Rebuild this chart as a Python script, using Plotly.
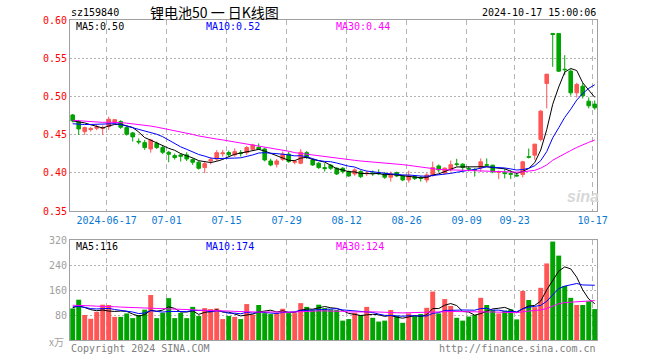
import plotly.graph_objects as go
import pandas as pd

# ---------------- data ----------------
holidays = ["2024-06-10", "2024-09-16", "2024-09-17", "2024-10-01", "2024-10-02",
            "2024-10-03", "2024-10-04", "2024-10-07"]
dates = [d.strftime("%Y-%m-%d") for d in pd.bdate_range("2024-06-06", "2024-10-17")
         if d.strftime("%Y-%m-%d") not in holidays]

open_ = [0.4757, 0.4670, 0.4539, 0.4565, 0.4583, 0.4580, 0.4605, 0.4660, 0.4670, 0.4592,
         0.4522, 0.4412, 0.4395, 0.4312, 0.4387, 0.4330, 0.4269, 0.4225, 0.4234, 0.4234,
         0.4173, 0.4138, 0.4068, 0.4155, 0.4180, 0.4250, 0.4265, 0.4234, 0.4262, 0.4264,
         0.4308, 0.4334, 0.4312, 0.4155, 0.4112, 0.4177, 0.4243, 0.4138, 0.4125, 0.4264,
         0.4168, 0.4125, 0.4068, 0.4099, 0.4059, 0.4059, 0.4016, 0.3985, 0.4016, 0.3988,
         0.3997, 0.3995, 0.3985, 0.3942, 0.4003, 0.3959, 0.3907, 0.3950, 0.3935, 0.3907,
         0.3972, 0.4090, 0.3996, 0.4039, 0.4117, 0.4113, 0.4055, 0.4045, 0.4065, 0.4105,
         0.4100, 0.4005, 0.4000, 0.3990, 0.3970, 0.3978, 0.4210, 0.4231, 0.4436, 0.5169,
         0.5824, 0.5824, 0.5355, 0.5331, 0.5047, 0.5134, 0.4938, 0.4899]
high = [0.4770, 0.4692, 0.4605, 0.4600, 0.4627, 0.4620, 0.4735, 0.4705, 0.4688, 0.4605,
        0.4535, 0.4450, 0.4430, 0.4443, 0.4408, 0.4365, 0.4286, 0.4252, 0.4256, 0.4269,
        0.4190, 0.4155, 0.4146, 0.4205, 0.4295, 0.4300, 0.4290, 0.4320, 0.4299, 0.4352,
        0.4380, 0.4385, 0.4330, 0.4185, 0.4181, 0.4280, 0.4275, 0.4170, 0.4310, 0.4285,
        0.4190, 0.4140, 0.4125, 0.4115, 0.4075, 0.4075, 0.4030, 0.4060, 0.4035, 0.4025,
        0.4030, 0.4045, 0.4010, 0.4016, 0.4016, 0.3975, 0.4029, 0.3970, 0.3960, 0.3994,
        0.4147, 0.4110, 0.4070, 0.4161, 0.4183, 0.4126, 0.4083, 0.4060, 0.4188, 0.4188,
        0.4105, 0.4030, 0.4057, 0.4035, 0.4000, 0.4157, 0.4318, 0.4375, 0.4820, 0.5291,
        0.5824, 0.5824, 0.5540, 0.5355, 0.5178, 0.5178, 0.4986, 0.4947]
low = [0.4660, 0.4496, 0.4496, 0.4539, 0.4557, 0.4496, 0.4560, 0.4635, 0.4574, 0.4487,
       0.4408, 0.4373, 0.4300, 0.4264, 0.4312, 0.4243, 0.4138, 0.4173, 0.4147, 0.4155,
       0.4103, 0.4042, 0.3998, 0.4110, 0.4155, 0.4210, 0.4212, 0.4210, 0.4212, 0.4234,
       0.4286, 0.4299, 0.4150, 0.4085, 0.4070, 0.4155, 0.4130, 0.4110, 0.4112, 0.4180,
       0.4090, 0.4050, 0.4016, 0.4038, 0.3970, 0.3990, 0.3945, 0.3960, 0.3930, 0.3960,
       0.3960, 0.3970, 0.3920, 0.3885, 0.3945, 0.3890, 0.3872, 0.3905, 0.3885, 0.3872,
       0.3950, 0.4010, 0.3980, 0.4017, 0.4083, 0.4017, 0.4017, 0.3950, 0.4013, 0.4078,
       0.3995, 0.3917, 0.3926, 0.3917, 0.3948, 0.3940, 0.4188, 0.4170, 0.4410, 0.4843,
       0.5387, 0.5320, 0.5278, 0.5010, 0.4986, 0.4973, 0.4843, 0.4825]
close = [0.4680, 0.4574, 0.4592, 0.4578, 0.4600, 0.4590, 0.4700, 0.4695, 0.4596, 0.4504,
         0.4470, 0.4404, 0.4330, 0.4430, 0.4330, 0.4269, 0.4243, 0.4200, 0.4216, 0.4181,
         0.4138, 0.4059, 0.4120, 0.4172, 0.4264, 0.4260, 0.4238, 0.4277, 0.4252, 0.4330,
         0.4365, 0.4308, 0.4168, 0.4103, 0.4155, 0.4243, 0.4147, 0.4147, 0.4269, 0.4203,
         0.4103, 0.4068, 0.4055, 0.4059, 0.3985, 0.4016, 0.3959, 0.4038, 0.3950, 0.3995,
         0.3990, 0.3988, 0.3942, 0.3985, 0.3959, 0.3907, 0.3959, 0.3924, 0.3928, 0.3972,
         0.4068, 0.4038, 0.4061, 0.4105, 0.4110, 0.4070, 0.4050, 0.4035, 0.4144, 0.4100,
         0.4013, 0.4015, 0.3990, 0.3982, 0.3960, 0.4144, 0.4205, 0.4375, 0.4807, 0.5291,
         0.5810, 0.5330, 0.5350, 0.5047, 0.5156, 0.5008, 0.4877, 0.4851]
volume = [101, 129, 80, 68, 90, 113, 112, 74, 74, 85, 70, 80, 97, 144, 70, 87, 134, 70, 87, 70,
          106, 77, 102, 99, 101, 67, 77, 74, 67, 115, 81, 112, 86, 83, 86, 100, 86, 86, 118, 106,
          97, 113, 102, 98, 96, 62, 67, 87, 80, 106, 71, 59, 62, 96, 77, 55, 85, 77, 83, 103,
          155, 85, 131, 109, 71, 62, 75, 80, 135, 112, 96, 85, 94, 98, 66, 157, 128, 105, 167, 245,
          315, 270, 173, 135, 112, 112, 124, 99]

# closes / volumes before the first visible day (needed only for the moving averages)
prior_close = [0.478, 0.482, 0.476, 0.471, 0.468, 0.465, 0.470, 0.474, 0.472, 0.469,
               0.466, 0.468, 0.473, 0.475, 0.471, 0.467, 0.464, 0.466, 0.470, 0.475,
               0.466, 0.461, 0.457, 0.458, 0.460, 0.463, 0.467, 0.470, 0.472]
prior_volume = [120, 105, 98, 130, 115, 108, 125, 110, 102, 118, 96, 122, 135, 110, 104,
                112, 128, 100, 116, 116, 118, 104, 112, 99, 112, 95, 110, 101, 108]

tick_dates = ["2024-06-17", "2024-07-01", "2024-07-15", "2024-07-29", "2024-08-12",
              "2024-08-26", "2024-09-09", "2024-09-23", "2024-10-17"]
tick_labels = ["2024-06-17", "07-01", "07-15", "07-29", "08-12", "08-26", "09-09", "09-23", "10-17"]
price_ticks = [0.35, 0.40, 0.45, 0.50, 0.55, 0.60]
vol_ticks = [80, 160, 240, 320]

title_text = "锂电池50 一 日K线图"
code_text = "sz159840"
time_text = "2024-10-17 15:00:06"
price_ma_labels = ["MA5:0.50", "MA10:0.52", "MA30:0.44"]
vol_ma_labels = ["MA5:116", "MA10:174", "MA30:124"]

# ---------------- derived ----------------
n = len(dates)
x = list(range(n))
pc = pd.Series(prior_close + close)
pv = pd.Series(prior_volume + volume)
k = len(prior_close)
ma_p = {w: pc.rolling(w).mean().iloc[k:].tolist() for w in (5, 10, 30)}
ma_v = {w: pv.rolling(w).mean().iloc[k:].tolist() for w in (5, 10, 30)}

RED = "#ff5555"
GREEN = "#00a400"
ma_colors = {5: "#000000", 10: "#0000ff", 30: "#ff00ff"}
vol_colors = [RED if c > o else GREEN for o, c in zip(open_, close)]
tick_pos = [dates.index(d) - 0.35 for d in tick_dates]

MONO = "DejaVu Sans Mono"

fig = go.Figure()
fig.add_trace(go.Candlestick(
    x=x, open=open_, high=high, low=low, close=close,
    increasing=dict(line=dict(color=RED, width=1), fillcolor=RED),
    decreasing=dict(line=dict(color=GREEN, width=1), fillcolor=GREEN),
    whiskerwidth=0, xaxis="x", yaxis="y", showlegend=False, hoverinfo="skip"))
for w in (5, 10, 30):
    fig.add_trace(go.Scatter(x=x, y=ma_p[w], mode="lines", line=dict(color=ma_colors[w], width=1),
                             xaxis="x", yaxis="y", showlegend=False, hoverinfo="skip"))
fig.add_trace(go.Bar(x=x, y=volume, marker=dict(color=vol_colors, line=dict(width=0)),
                     width=0.82, xaxis="x2", yaxis="y2", showlegend=False, hoverinfo="skip"))
for w in (5, 10, 30):
    fig.add_trace(go.Scatter(x=x, y=ma_v[w], mode="lines", line=dict(color=ma_colors[w], width=1),
                             xaxis="x2", yaxis="y2", showlegend=False, hoverinfo="skip"))

W, H = 660, 360
L, R, T, B = 70, 597, 20, 340
xr = [-0.45, 87.38]

def px(xp):
    return (xp - L) / (R - L)

def py(yp):
    return (B - yp) / (B - T)

common_x = dict(range=xr, tickvals=tick_pos, showgrid=True, gridcolor="#b4b4b4",
                griddash="5px,4px", gridwidth=1, showline=True, mirror=True,
                linecolor="#a0a0a0", linewidth=1, zeroline=False, ticks="", fixedrange=True)
fig.update_layout(
    width=W, height=H, paper_bgcolor="white", plot_bgcolor="white",
    margin=dict(l=L, r=W - R, t=T, b=H - B), boxgap=0.15,
    xaxis=dict(**common_x, domain=[0, 1], anchor="y", ticktext=tick_labels,
               tickfont=dict(family=MONO, size=10, color="#0a78d2"),
               rangeslider=dict(visible=False)),
    xaxis2=dict(**common_x, domain=[0, 1], anchor="y2", showticklabels=False),
    yaxis=dict(domain=[py(211), 1], range=[0.35, 0.60], tickvals=price_ticks,
               ticktext=["%.2f" % v for v in price_ticks],
               tickfont=dict(family=MONO, size=10, color="#ff0000"),
               showgrid=True, gridcolor="#b4b4b4", griddash="2px,2px", showline=True, mirror=True,
               linecolor="#a0a0a0", zeroline=False, ticks="", fixedrange=True),
    yaxis2=dict(domain=[0, py(240)], range=[0, 320], tickvals=vol_ticks,
                ticktext=[str(v) for v in vol_ticks],
                tickfont=dict(family=MONO, size=10, color="#a0a0a0"),
                showgrid=True, gridcolor="#b4b4b4", griddash="2px,2px", showline=True, mirror=True,
                linecolor="#a0a0a0", zeroline=False, ticks="", fixedrange=True),
    showlegend=False,
)

def note(text, xp, yp, color="#000000", size=10, anchor="left", family=MONO, **kw):
    fig.add_annotation(text=text, x=px(xp), y=py(yp), xref="paper", yref="paper",
                       xanchor=anchor, yanchor="middle", showarrow=False,
                       font=dict(family=family, size=size, color=color), **kw)

note(code_text, 69, 13)
note(title_text, 214, 12, size=14, anchor="center", family="Noto Sans CJK SC")
note(time_text, 598, 13, anchor="right")
for lbl, xp, w in zip(price_ma_labels, (74, 204, 334), (5, 10, 30)):
    note(lbl, xp, 27, color=ma_colors[w])
for lbl, xp, w in zip(vol_ma_labels, (74, 204, 334), (5, 10, 30)):
    note(lbl, xp, 246, color=ma_colors[w])
note("x万", 66, 341, color="#a0a0a0", anchor="right", family="Noto Sans CJK SC", size=10)
note("Copyright 2024 SINA.COM", 69, 348, color="#808080")
note("http://finance.sina.com.cn", 598, 348, color="#808080", anchor="right")
note("<b><i>sina</i></b>", 583, 196, color="#d8d8d8", size=16, anchor="center", family="Liberation Sans")

fig.write_html("out.html", config={"displayModeBar": False},
               post_script="document.body.style.margin='0';document.body.style.padding='0';")
